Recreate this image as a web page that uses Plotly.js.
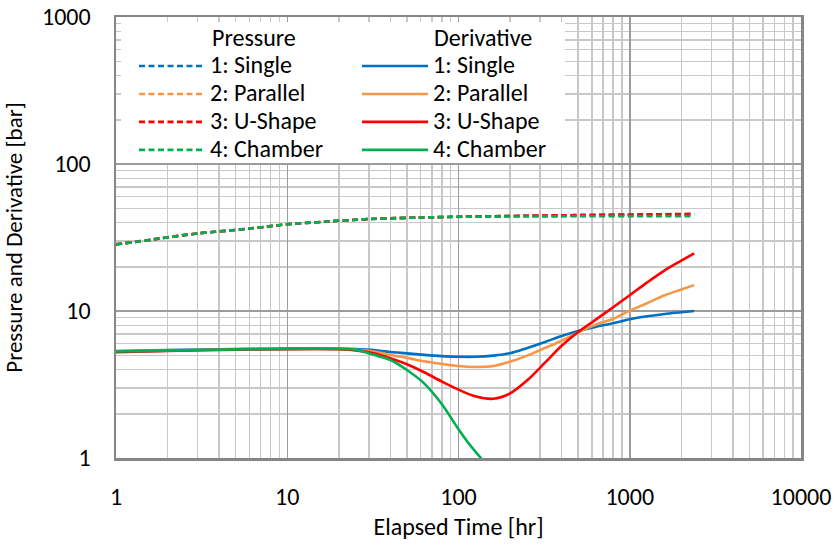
<!DOCTYPE html>
<html><head><meta charset="utf-8">
<script src="https://cdn.plot.ly/plotly-3.0.1.min.js"></script>
<style>html,body{margin:0;padding:0;background:#fff}#chart{width:837px;height:546px}</style>
</head><body><div id="chart"></div>
<script>
// ---- data ----
const seriesNames = ["1: Single", "2: Parallel", "3: U-Shape", "4: Chamber"];
const colors = ["#0070C0", "#F79646", "#FF0000", "#00B050"];

const timeP = [1, 1.5, 2, 3, 5, 7, 10, 15, 20, 30, 50, 70, 100, 200, 300, 500, 1000, 1500, 2378];
const presSingle   = [28.4, 30.2, 31.7, 33.7, 35.6, 37.1, 38.9, 40.2, 41.1, 42.2, 43.0, 43.4, 43.8, 44.3, 44.6, 44.9, 45.2, 45.4, 45.6];
const presParallel = [28.4, 30.2, 31.7, 33.7, 35.6, 37.1, 38.9, 40.2, 41.1, 42.2, 43.0, 43.4, 43.8, 44.2, 44.5, 44.8, 45.0, 45.1, 45.3];
const presUShape   = [28.4, 30.2, 31.7, 33.7, 35.6, 37.1, 38.9, 40.2, 41.1, 42.2, 43.0, 43.4, 43.8, 44.3, 44.6, 44.9, 45.3, 45.5, 45.8];
const presChamber  = [28.4, 30.2, 31.7, 33.7, 35.6, 37.1, 38.9, 40.2, 41.1, 42.2, 43.0, 43.4, 43.7, 43.9, 44.0, 44.1, 44.2, 44.2, 44.2];

const timeD = [1, 2, 5, 10, 20, 25, 32, 40, 50, 63, 80, 100, 125, 160, 200, 250, 320, 400, 500, 630, 800, 1000, 1260, 1600, 2000, 2378];
const derivSingle   = [5.35, 5.42, 5.5, 5.55, 5.55, 5.52, 5.42, 5.26, 5.15, 5.03, 4.93, 4.88, 4.88, 4.97, 5.16, 5.58, 6.15, 6.76, 7.31, 7.8, 8.25, 8.78, 9.2, 9.55, 9.8, 10.0];
const derivParallel = [5.3, 5.38, 5.48, 5.52, 5.5, 5.45, 5.3, 5.02, 4.8, 4.55, 4.36, 4.22, 4.16, 4.22, 4.52, 4.95, 5.6, 6.28, 7.16, 8.05, 8.85, 10.05, 11.3, 12.8, 14.0, 15.0];
const derivUShape   = [5.25, 5.35, 5.45, 5.5, 5.49, 5.4, 5.15, 4.77, 4.34, 3.83, 3.31, 2.92, 2.63, 2.53, 2.75, 3.35, 4.45, 5.8, 7.2, 8.7, 10.6, 12.8, 15.6, 18.9, 22.0, 24.7];
const timeDChamber  = [1, 2, 5, 10, 20, 25, 32, 40, 50, 63, 80, 100, 117, 137, 150];
const derivChamber  = [5.3, 5.38, 5.48, 5.52, 5.52, 5.45, 5.03, 4.64, 3.97, 3.22, 2.32, 1.57, 1.22, 0.98, 0.85];

const xTitle = "Elapsed Time [hr]";
const yTitle = "Pressure and Derivative [bar]";
const headers = ["Pressure", "Derivative"];

// ---- traces ----
const FONT = "Carlito, Lato, 'Open Sans', sans-serif";
const FS = 24;
const presY = [presSingle, presParallel, presUShape, presChamber];
const derivX = [timeD, timeD, timeD, timeDChamber];
const derivY = [derivSingle, derivParallel, derivUShape, derivChamber];
const label = s => '<span style="font-size:' + FS + 'px">' + s + '</span>';
const traces = [];
for (let i = 0; i < 4; i++) {
  traces.push({x: timeP, y: presY[i], name: label(seriesNames[i]), mode: "lines", legend: "legend",
    line: {color: colors[i], width: 2.6, dash: "6px,3.5px", shape: "spline", smoothing: 1}});
}
for (let i = 0; i < 4; i++) {
  traces.push({x: derivX[i], y: derivY[i], name: label(seriesNames[i]), mode: "lines", legend: "legend2",
    line: {color: colors[i], width: 2.6, shape: "spline", smoothing: 0.9}});
}

const L = 116, R = 801, T = 17, B = 458, W = 837, H = 546;
const pw = R - L, ph = B - T;
const px = v => (v - L) / pw;
const py = v => (B - v) / ph;

const axisCommon = {
  type: "log", showline: true, mirror: true, linecolor: "#868686", linewidth: 2.5,
  showgrid: true, gridcolor: "#9c9c9c", gridwidth: 1.5,
  minor: {showgrid: true, gridcolor: "#c8c8c8", gridwidth: 1.5, dtick: "D1"},
  zeroline: false, ticks: "", tick0: 0, dtick: 1, tickformat: "d",
  tickfont: {family: FONT, size: FS, color: "#000"}
};

const legendCommon = {xanchor: "left", yanchor: "top", bgcolor: "rgba(0,0,0,0)",
  itemwidth: 66, font: {family: FONT, size: 19.2, color: "#000"}, tracegroupgap: 0, itemclick: false};

const layout = {
  width: W, height: H,
  margin: {l: L, r: W - R, t: T, b: H - B},
  paper_bgcolor: "#fff", plot_bgcolor: "#fff",
  font: {family: FONT, color: "#000"},
  showlegend: true,
  xaxis: Object.assign({}, axisCommon, {range: [0, 4], ticklabelstandoff: 16,
    title: {text: xTitle, font: {family: FONT, size: FS}, standoff: 8}}),
  yaxis: Object.assign({}, axisCommon, {range: [0, 3], ticklabelstandoff: 18,
    title: {text: yTitle, font: {family: FONT, size: 23}, standoff: 14}}),
  legend: Object.assign({}, legendCommon, {x: px(134), y: py(47)}),
  legend2: Object.assign({}, legendCommon, {x: px(357), y: py(47)}),
  shapes: [{type: "rect", xref: "paper", yref: "paper", layer: "above",
    x0: px(121), x1: px(565), y0: py(163), y1: py(22), fillcolor: "#fff", line: {width: 0}}],
  annotations: [
    {text: headers[0], xref: "paper", yref: "paper", x: px(210), y: py(37), xanchor: "left", yanchor: "middle",
     showarrow: false, font: {family: FONT, size: FS}},
    {text: headers[1], xref: "paper", yref: "paper", x: px(432), y: py(37), xanchor: "left", yanchor: "middle",
     showarrow: false, font: {family: FONT, size: FS}}
  ]
};

Plotly.newPlot("chart", traces, layout, {staticPlot: true, displayModeBar: false});
</script></body></html>
